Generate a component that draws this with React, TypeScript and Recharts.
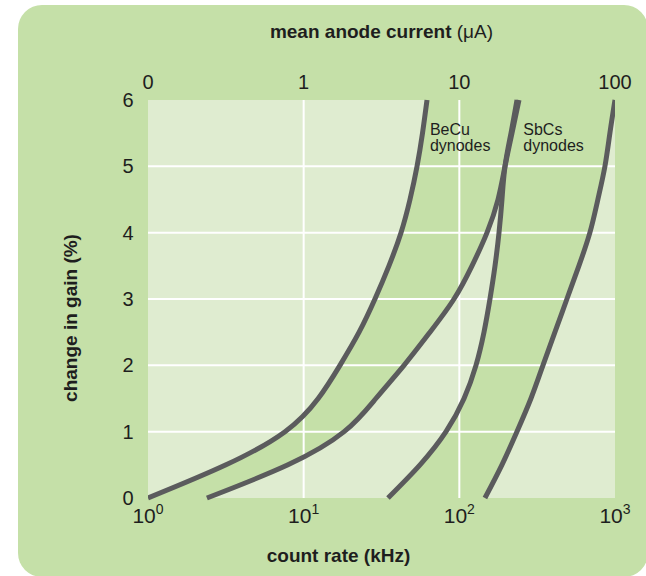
import {
  ComposedChart,
  Area,
  Line,
  XAxis,
  YAxis,
  CartesianGrid,
  ReferenceLine,
  ReferenceDot,
} from "recharts";

// gain change (%) at which each curve is sampled
const gainLevels = [0, 0.5, 1, 1.5, 2, 2.5, 3, 3.5, 4, 4.5, 5, 5.5, 6];

// count rate (kHz) of each curve at those gain levels
const becuLeft = [1, 3.17, 7.59, 12.4, 17.1, 22.7, 28.7, 35.3, 42.2, 48.2, 53.5, 58.0, 62.0];
const becuRight = [2.39, 7.93, 18.2, 29.1, 44.1, 64.8, 92.4, 120.6, 150.6, 177.2, 196.5, 217.9, 241.7];
const sbcsLeft = [34.8, 55.9, 82.1, 107.2, 127.9, 144.0, 157.3, 169.5, 179.8, 187.9, 196.5, 214.7, 234.7];
const sbcsRight = [146, 187.8, 234.5, 288.4, 344.4, 411.2, 491.0, 586.2, 689.7, 776.2, 861.5, 927.3, 1000];

const countTicks = [1, 10, 100, 1000];
const currentLabels = ["0", "1", "10", "100"];
const gainTicks = [0, 1, 2, 3, 4, 5, 6];
const gridGain = [1, 2, 3, 4, 5];
const gridCount = [10, 100];

const PANEL = "#c5e0a8";
const PLOT = "#dfecd0";
const CURVE = "#5b5b5d";
const INK = "#1e1e1e";
const FONT = "'Liberation Sans', Arial, sans-serif";

const data = gainLevels.map((gain, i) => ({
  gain,
  becuLeft: becuLeft[i],
  becuRight: becuRight[i],
  sbcsLeft: sbcsLeft[i],
  sbcsRight: sbcsRight[i],
}));

const BottomTick = ({ x, y, payload }: any) => {
  const exp = Math.round(Math.log10(payload.value));
  return (
    <text x={x} y={y + 25} textAnchor="middle" fontSize={21} fill={INK} fontFamily={FONT}>
      10
      <tspan dy={-9} fontSize={14}>
        {exp}
      </tspan>
    </text>
  );
};

const TopTick = ({ x, y, payload, index }: any) => (
  <text x={x} y={y - 11} textAnchor="middle" fontSize={20} fill={INK} fontFamily={FONT}>
    {currentLabels[index] ?? payload.value}
  </text>
);

const LeftTick = ({ x, y, payload }: any) => (
  <text x={x - 20} y={y + 7} textAnchor="middle" fontSize={20} fill={INK} fontFamily={FONT}>
    {payload.value}
  </text>
);

const TopTitle = ({ viewBox }: any) => (
  <text
    x={viewBox.x + viewBox.width / 2}
    y={viewBox.y - 32}
    textAnchor="middle"
    fontSize={19}
    fill={INK}
    fontFamily={FONT}
  >
    <tspan fontWeight="bold">mean anode current </tspan>
    <tspan>(μA)</tspan>
  </text>
);

const BottomTitle = ({ viewBox }: any) => (
  <text
    x={viewBox.x + viewBox.width / 2 - 43}
    y={viewBox.y + viewBox.height + 34}
    textAnchor="middle"
    fontSize={19}
    fontWeight="bold"
    fill={INK}
    fontFamily={FONT}
  >
    count rate (kHz)
  </text>
);

const LeftTitle = ({ viewBox }: any) => {
  const cx = 77;
  const cy = viewBox.y + viewBox.height / 2 + 19;
  return (
    <text
      x={cx}
      y={cy}
      transform={`rotate(-90 ${cx} ${cy})`}
      textAnchor="middle"
      fontSize={19}
      fontWeight="bold"
      fill={INK}
      fontFamily={FONT}
    >
      change in gain (%)
    </text>
  );
};

const curveLabel = (lines: string[]) => (props: any) => (
  <text x={props.cx} y={props.cy} fontSize={16} fill={INK} fontFamily={FONT}>
    {lines.map((l, i) => (
      <tspan key={l} x={props.cx} dy={i === 0 ? 0 : 16}>
        {l}
      </tspan>
    ))}
  </text>
);

export default function App() {
  return (
    <div style={{ position: "absolute", left: 0, top: 0, width: 646, height: 576, background: "#fff" }}>
      <div
        style={{
          position: "absolute",
          left: 18,
          top: 5,
          width: 630,
          height: 572,
          background: PANEL,
          borderRadius: 24,
        }}
      />
      <div style={{ position: "absolute", left: 0, top: 0 }}>
        <ComposedChart
          width={646}
          height={576}
          data={data}
          layout="vertical"
          margin={{ top: 70, right: 31, bottom: 48, left: 108 }}
        >
          <CartesianGrid fill={PLOT} horizontal={false} vertical={false} />
          <XAxis
            type="number"
            dataKey="x"
            scale="log"
            domain={[1, 1000]}
            ticks={countTicks}
            allowDataOverflow
            axisLine={false}
            tickLine={false}
            tickSize={0}
            tickMargin={0}
            interval={0}
            height={30}
            tick={<BottomTick />}
            label={<BottomTitle />}
          />
          <XAxis
            xAxisId="top"
            orientation="top"
            type="number"
            scale="log"
            domain={[1, 1000]}
            ticks={countTicks}
            allowDataOverflow
            axisLine={false}
            tickLine={false}
            tickSize={0}
            tickMargin={0}
            interval={0}
            height={30}
            tick={<TopTick />}
            label={<TopTitle />}
          />
          <YAxis
            type="number"
            dataKey="gain"
            domain={[0, 6]}
            ticks={gainTicks}
            reversed
            axisLine={false}
            tickLine={false}
            tickSize={0}
            tickMargin={0}
            interval={0}
            width={40}
            tick={<LeftTick />}
            label={<LeftTitle />}
          />
          <Area
            type="natural"
            dataKey={(d: any) => [d.becuLeft, d.becuRight]}
            stroke="none"
            fill={PANEL}
            fillOpacity={1}
            isAnimationActive={false}
          />
          <Area
            type="natural"
            dataKey={(d: any) => [d.sbcsLeft, d.sbcsRight]}
            stroke="none"
            fill={PANEL}
            fillOpacity={1}
            isAnimationActive={false}
          />
          {gridGain.map((g) => (
            <ReferenceLine key={`g${g}`} y={g} stroke="#ffffff" strokeWidth={2} />
          ))}
          {gridCount.map((c) => (
            <ReferenceLine key={`c${c}`} x={c} stroke="#ffffff" strokeWidth={2} />
          ))}
          {["becuLeft", "becuRight", "sbcsLeft", "sbcsRight"].map((key) => (
            <Line
              key={key}
              type="natural"
              dataKey={key}
              stroke={CURVE}
              strokeWidth={5}
              dot={false}
              activeDot={false}
              isAnimationActive={false}
            />
          ))}
          <ReferenceDot x={64.7} y={5.47} r={0} shape={curveLabel(["BeCu", "dynodes"])} />
          <ReferenceDot x={257.6} y={5.47} r={0} shape={curveLabel(["SbCs", "dynodes"])} />
        </ComposedChart>
      </div>
    </div>
  );
}
